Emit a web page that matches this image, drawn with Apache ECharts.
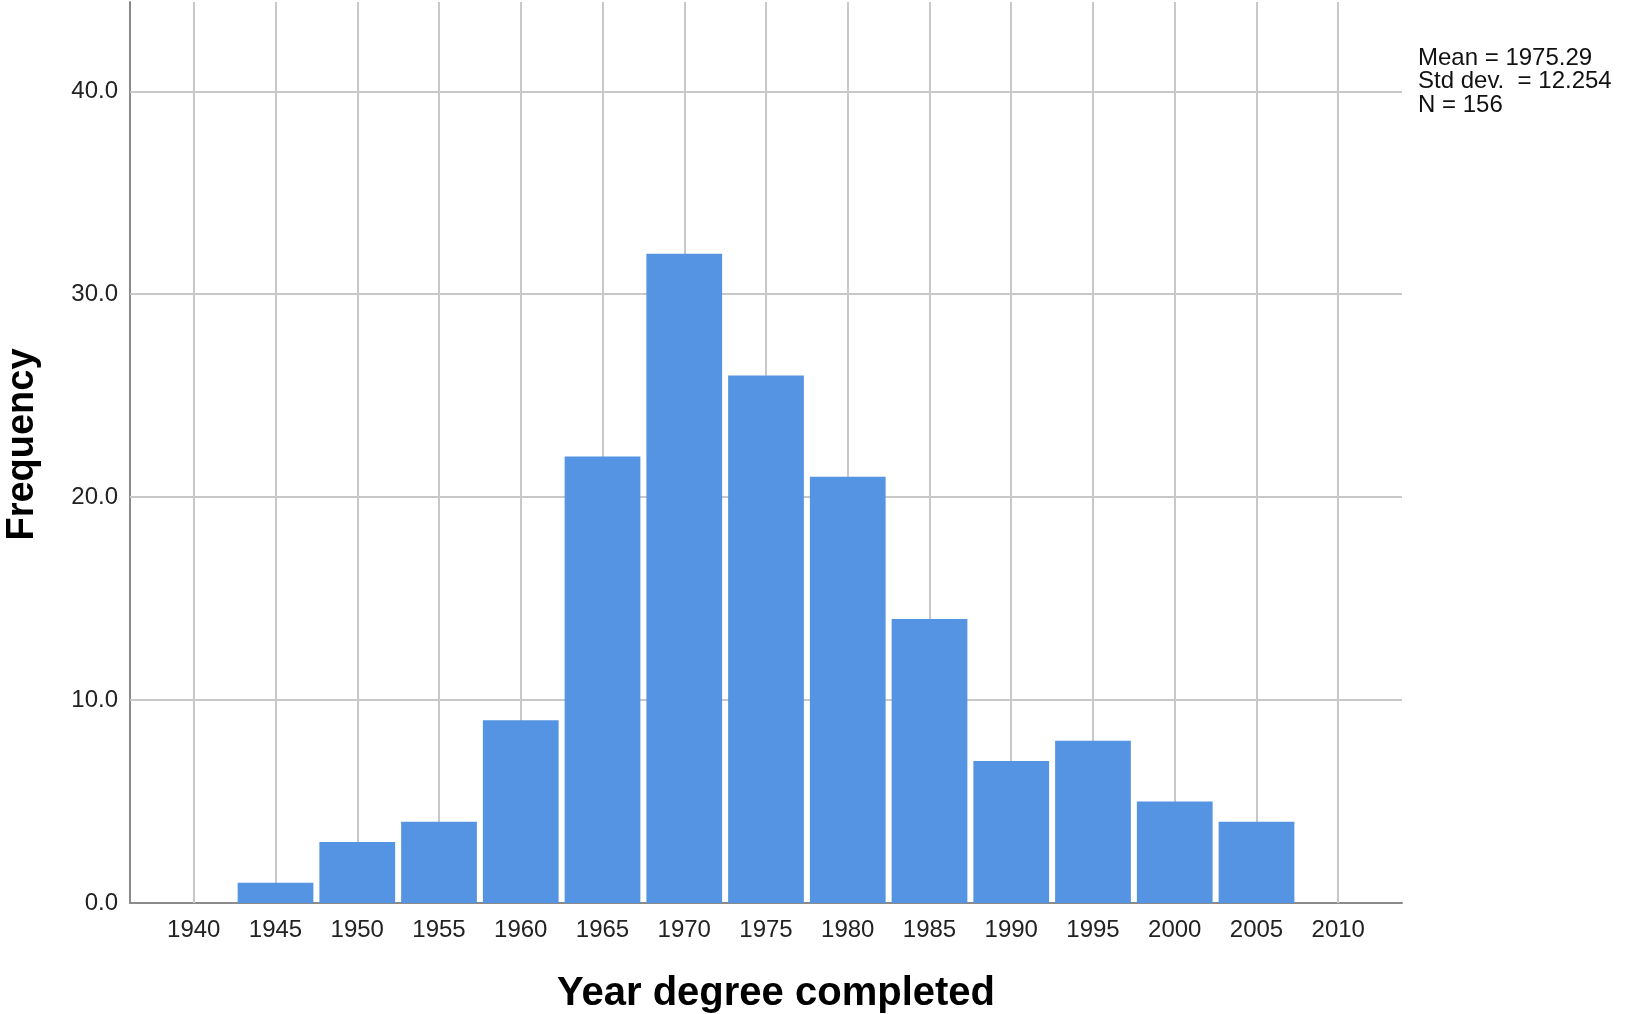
<!DOCTYPE html>
<html><head><meta charset="utf-8">
<script src="https://cdn.jsdelivr.net/npm/echarts@6/dist/echarts.min.js"></script>
<style>html,body{margin:0;padding:0;background:#fff}#c{width:1625px;height:1014px}</style>
</head><body><div id="c"></div>
<script>
// ---- data ----
const binCenters = [1945, 1950, 1955, 1960, 1965, 1970, 1975, 1980, 1985, 1990, 1995, 2000, 2005];
const frequencies = [1, 3, 4, 9, 22, 32, 26, 21, 14, 7, 8, 5, 4];
const binWidth = 5;
const xTickValues = [1940, 1945, 1950, 1955, 1960, 1965, 1970, 1975, 1980, 1985, 1990, 1995, 2000, 2005, 2010];
const yTickValues = [0, 10, 20, 30, 40];
const statsLines = ['Mean = 1975.29', 'Std dev.  = 12.254', 'N = 156'];
const xTitle = 'Year degree completed';
const yTitle = 'Frequency';

const FONT = '"Liberation Sans", Arial, sans-serif';
const chart = echarts.init(document.getElementById('c'));
const barData = binCenters.map((c, i) => [c, frequencies[i]]);

chart.setOption({
  animation: false,
  backgroundColor: '#fff',
  grid: { left: 130, right: 223, top: 2, bottom: 111, containLabel: false, outerBoundsMode: 'none' },
  xAxis: {
    type: 'value', min: 1936.1, max: 2013.9,
    axisLine: { show: true, onZero: false, lineStyle: { color: '#8a8a8a', width: 2 } },
    axisTick: { show: false },
    splitLine: { show: false },
    axisLabel: { customValues: xTickValues, margin: 15, fontSize: 24, color: '#222', fontFamily: FONT,
      formatter: v => String(v) },
    name: xTitle, nameLocation: 'middle', nameGap: 71,
    nameTextStyle: { fontSize: 40, fontWeight: 'bold', color: '#000', fontFamily: FONT, padding: [0, 0, 0, 20] }
  },
  yAxis: {
    type: 'value', min: 0, max: 44.4,
    axisLine: { show: true, onZero: false, lineStyle: { color: '#8a8a8a', width: 2 } },
    axisTick: { show: false },
    splitLine: { show: false },
    axisLabel: { customValues: yTickValues, margin: 12, fontSize: 24, color: '#222', fontFamily: FONT,
      formatter: v => v.toFixed(1) },
    name: yTitle, nameLocation: 'middle', nameGap: 88,
    nameTextStyle: { fontSize: 38, fontWeight: 'bold', color: '#000', fontFamily: FONT, padding: [0, 0, 0, 16] }
  },
  series: [
    {
      type: 'line', data: [], silent: true, z: 1,
      markLine: {
        silent: true, symbol: 'none', z: 1, animation: false,
        label: { show: false },
        lineStyle: { color: '#c8c8c8', width: 2, type: 'solid' },
        emphasis: { disabled: true },
        data: [
          ...xTickValues.map(v => ({ xAxis: v })),
          ...yTickValues.filter(v => v > 0).map(v => ({ yAxis: v }))
        ]
      }
    },
    {
      type: 'custom', z: 3,
      data: barData,
      encode: { x: 0, y: 1 },
      renderItem: function (params, api) {
        const c = api.value(0), f = api.value(1);
        const pTop = api.coord([c - binWidth / 2, f]);
        const pBot = api.coord([c + binWidth / 2, 0]);
        const inset = 3;
        return {
          type: 'rect',
          shape: { x: pTop[0] + inset, y: pTop[1], width: pBot[0] - pTop[0] - 2 * inset, height: pBot[1] - pTop[1] },
          style: { fill: '#5594e2' }
        };
      }
    }
  ],
  graphic: [
    {
      type: 'text', left: 1418, top: 46,
      style: { text: statsLines.join('\n'), font: '24px ' + FONT, fill: '#111', lineHeight: 23.5 }
    }
  ]
});
</script></body></html>
